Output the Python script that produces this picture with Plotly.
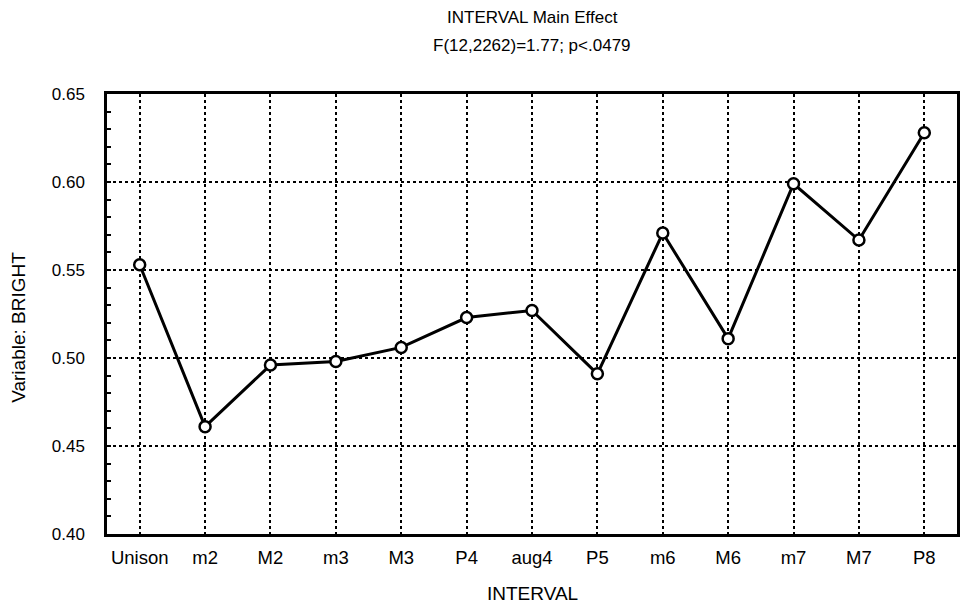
import plotly.graph_objects as go

intervals = ["Unison", "m2", "M2", "m3", "M3", "P4", "aug4", "P5", "m6", "M6", "m7", "M7", "P8"]
bright = [0.553, 0.461, 0.496, 0.498, 0.506, 0.523, 0.527, 0.491, 0.571, 0.511, 0.599, 0.567, 0.628]
y_ticks = [0.40, 0.45, 0.50, 0.55, 0.60, 0.65]
y_tick_labels = ["0.40", "0.45", "0.50", "0.55", "0.60", "0.65"]

FONT = "Liberation Sans, Arial, sans-serif"

fig = go.Figure()
fig.add_trace(go.Scatter(
    x=list(range(len(intervals))), y=bright, mode="lines+markers",
    line=dict(color="black", width=3),
    marker=dict(symbol="circle", size=11, color="white", line=dict(color="black", width=2.5)),
    showlegend=False,
))

fig.update_layout(
    width=964, height=608,
    margin=dict(l=107, r=4, t=94, b=74),
    paper_bgcolor="white", plot_bgcolor="white",
    font=dict(family=FONT, color="black", size=18),
    xaxis=dict(
        range=[-0.5, 12.5], tickmode="array", tickvals=list(range(len(intervals))),
        ticktext=intervals, showgrid=True, gridcolor="black", griddash="dot", gridwidth=2,
        showline=True, linecolor="black", linewidth=2.5, mirror=True, ticks="",
        zeroline=False, tickfont=dict(size=18.5, family=FONT), ticklabelstandoff=5,
    ),
    yaxis=dict(
        range=[0.40, 0.65], tickmode="array", tickvals=y_ticks, ticktext=y_tick_labels,
        showgrid=True, gridcolor="black", griddash="dot", gridwidth=2,
        showline=True, linecolor="black", linewidth=2.5, mirror=True,
        ticks="inside", ticklen=4, tickcolor="black", tickwidth=2,
        minor=dict(ticks="inside", dtick=0.01, tick0=0.40, ticklen=4, tickcolor="black", tickwidth=2, showgrid=False),
        zeroline=False, tickfont=dict(size=17, family=FONT), ticklabelstandoff=16,
    ),
    annotations=[
        dict(text="INTERVAL Main Effect", x=0.5, xref="paper", y=1, yref="paper",
             showarrow=False, font=dict(size=17, family=FONT)),
        dict(text="INTERVAL", x=0.5, xref="paper", y=-0.135, yref="paper",
             xanchor="center", yanchor="middle", showarrow=False, font=dict(size=19, family=FONT)),
        dict(text="Variable: BRIGHT", x=-0.104, xref="paper", y=0.47, yref="paper",
             textangle=-90, xanchor="center", yanchor="middle", showarrow=False,
             font=dict(size=19, family=FONT)),
    ],
)
plot_h = 608 - 94 - 74
fig.layout.annotations[0].update(y=1 + (94 - 18) / plot_h, yanchor="middle")
fig.add_annotation(text="F(12,2262)=1.77; p<.0479", x=0.5, xref="paper",
                   y=1 + (94 - 45) / plot_h, yref="paper", yanchor="middle",
                   showarrow=False, font=dict(size=17, family=FONT))

fig.write_html("out.html")
